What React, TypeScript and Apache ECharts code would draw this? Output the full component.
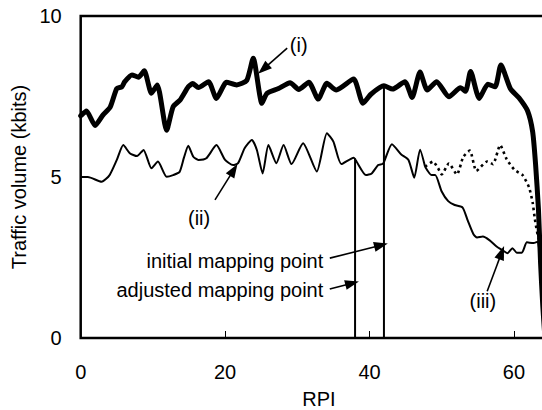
import { useEffect, useRef } from "react";
import * as echarts from "echarts";

// Axis ranges and tick labels
const xTickValues = [0, 20, 40, 60];
const yTickValues = [0, 5, 10];
const xMax = 66;

// (i) traffic volume, thick curve
const curveI: [number, number][] = [
  [0, 6.9], [0.8, 7.05], [2.0, 6.6], [3.1, 6.93], [4.1, 7.18], [5.0, 7.75], [5.7, 7.8],
  [6.1, 7.96], [7.1, 8.17], [8.0, 8.1], [8.8, 8.3], [9.8, 7.6], [10.6, 7.86], [11.9, 6.45],
  [12.8, 7.18], [13.8, 7.4], [14.9, 7.8], [15.5, 7.9], [16.3, 7.78], [17.7, 7.96], [18.8, 7.44],
  [20.2, 7.94], [21.6, 7.86], [23.0, 8.0], [23.9, 8.69], [25.1, 7.29], [25.8, 7.6], [27.4, 7.75],
  [29.0, 7.93], [30.2, 7.72], [31.6, 7.94], [32.9, 7.42], [34.1, 7.91], [35.4, 7.7], [37.8, 8.04],
  [39.1, 7.29], [40.2, 7.57], [42.0, 7.83], [43.2, 7.73], [44.9, 7.96], [45.9, 7.47], [47.0, 8.26],
  [48.0, 7.7], [49.3, 7.96], [51.0, 7.49], [52.6, 7.77], [53.3, 7.66], [54.0, 8.28], [55.2, 7.44],
  [56.4, 7.88], [57.4, 7.8], [58.2, 8.48], [59.5, 7.75], [60.7, 7.46], [61.9, 7.05], [62.6, 6.4],
  [63.0, 5.4], [63.4, 4.0], [63.7, 2.3], [64.0, 1.0], [64.3, 0]
];

// (ii) traffic volume, thin solid part
const curveII: [number, number][] = [
  [0, 5.0], [1.0, 5.0], [2.9, 4.85], [4.0, 5.06], [5.0, 5.53], [5.9, 5.99], [6.8, 5.74],
  [7.8, 5.65], [8.7, 5.84], [9.8, 5.27], [10.7, 5.48], [11.9, 5.01], [12.8, 5.06], [13.7, 5.16],
  [14.3, 5.6], [14.9, 5.97], [15.6, 5.63], [16.3, 5.53], [17.4, 5.58], [18.8, 5.99], [20.0, 5.53],
  [21.1, 5.37], [21.8, 5.43], [22.7, 5.89], [23.7, 6.15], [24.4, 5.84], [25.2, 5.11], [26.0, 5.99],
  [27.1, 5.43], [28.1, 5.99], [29.2, 5.4], [30.8, 6.05], [32.7, 5.17], [34.1, 6.36], [35.0, 6.1],
  [36.1, 5.4], [37.8, 5.6], [38.2, 5.48], [39.5, 5.06], [40.3, 5.11], [41.2, 5.37], [41.9, 5.42],
  [43.1, 6.02], [44.4, 5.7], [45.4, 5.53], [46.2, 4.98], [47.0, 5.85], [47.7, 5.32]
];

// (ii) continuation, dotted
const curveIIDotted: [number, number][] = [
  [47.7, 5.32], [48.8, 5.48], [49.5, 5.27], [50.0, 5.08], [51.0, 5.42], [52.1, 5.08], [53.0, 5.63],
  [53.9, 5.82], [54.8, 5.19], [56.3, 5.48], [57.1, 5.4], [58.1, 5.99], [59.0, 5.55], [60.1, 5.22],
  [61.2, 5.06], [62.1, 4.68], [62.6, 4.2], [62.9, 3.7], [63.3, 3.2], [63.7, 2.9]
];

// (iii) traffic volume after the split
const curveIII: [number, number][] = [
  [47.7, 5.32], [48.6, 5.06], [49.1, 5.06], [50.0, 4.55], [50.9, 4.25], [51.8, 4.13], [52.9, 4.05],
  [53.6, 3.65], [54.4, 3.22], [54.9, 3.12], [55.7, 3.15], [56.6, 3.04], [57.6, 2.84], [58.4, 2.73],
  [59.1, 2.63], [59.8, 2.79], [60.4, 2.65], [61.1, 2.65], [61.8, 2.97], [62.7, 2.95], [63.3, 2.99],
  [63.6, 2.5], [63.9, 1.6], [64.2, 0.5]
];

// Mapping points: [RPI, height the marker line reaches]
const adjustedMappingPoint: [number, number] = [38, 5.58];
const initialMappingPoint: [number, number] = [42, 7.82];

// Annotation labels and their pointer arrows, in data coordinates
type Note = { text: string; at: [number, number]; align: string; from: [number, number]; to: [number, number] };
const notes: Note[] = [
  { text: "(i)", at: [30.2, 9.1], align: "center", from: [28.6, 9.0], to: [25.3, 8.35] },
  { text: "(ii)", at: [16.4, 3.73], align: "center", from: [18.6, 4.29], to: [21.2, 5.22] },
  { text: "initial mapping point", at: [33.6, 2.39], align: "right", from: [34.5, 2.48], to: [41.6, 2.88] },
  { text: "adjusted mapping point", at: [33.6, 1.49], align: "right", from: [34.5, 1.52], to: [37.6, 1.7] },
  { text: "(iii)", at: [55.7, 1.15], align: "center", from: [56.3, 1.45], to: [58.3, 2.65] }
];

const FONT = "'Liberation Sans', Arial, Helvetica, sans-serif";

export default function App() {
  const ref = useRef<HTMLDivElement>(null);

  useEffect(() => {
    if (!ref.current) return;
    const chart = echarts.init(ref.current, undefined, { renderer: "svg" });

    const lineBase = { type: "line" as const, showSymbol: false, symbol: "none", silent: true };

    chart.setOption({
      animation: false,
      backgroundColor: "#fff",
      textStyle: { fontFamily: FONT, color: "#000" },
      grid: {
        left: 80.7,
        top: 16,
        width: 7.22 * xMax,
        height: 322,
        outerBoundsMode: "none",
        containLabel: false,
        show: true,
        borderColor: "#000",
        borderWidth: 2.5,
        backgroundColor: "transparent"
      },
      xAxis: {
        type: "value",
        min: 0,
        max: xMax,
        interval: 20,
        name: "RPI",
        nameLocation: "middle",
        nameGap: 51,
        nameTextStyle: { fontSize: 20, color: "#000", fontFamily: FONT },
        axisLine: { show: false },
        axisTick: { show: true, inside: true, length: 7, lineStyle: { color: "#000", width: 1 } },
        splitLine: { show: false },
        axisLabel: {
          fontSize: 20,
          color: "#000",
          fontFamily: FONT,
          margin: 24,
          showMaxLabel: false,
          formatter: (v: number) => (xTickValues.includes(v) ? String(v) : "")
        }
      },
      yAxis: {
        type: "value",
        min: 0,
        max: 10,
        interval: 5,
        name: "Traffic volume (kbits)",
        nameLocation: "middle",
        nameGap: 48,
        nameTextStyle: { fontSize: 20, color: "#000", fontFamily: FONT },
        axisLine: { show: false },
        axisTick: { show: false },
        splitLine: { show: false },
        axisLabel: {
          fontSize: 20,
          color: "#000",
          fontFamily: FONT,
          margin: 19,
          formatter: (v: number) => (yTickValues.includes(v) ? String(v) : "")
        }
      },
      series: [
        {
          ...lineBase,
          name: "(iii)",
          data: curveIII,
          smooth: 0.2,
          lineStyle: { color: "#000", width: 2 }
        },
        {
          ...lineBase,
          name: "(ii) continued",
          data: curveIIDotted,
          smooth: 0.2,
          lineStyle: { color: "#000", width: 2.6, type: [2.6, 3.4] }
        },
        {
          ...lineBase,
          name: "(ii)",
          data: curveII,
          smooth: 0.2,
          lineStyle: { color: "#000", width: 2 }
        },
        {
          ...lineBase,
          name: "adjusted mapping point",
          data: [[adjustedMappingPoint[0], 0], adjustedMappingPoint],
          lineStyle: { color: "#000", width: 2 }
        },
        {
          ...lineBase,
          name: "initial mapping point",
          data: [[initialMappingPoint[0], 0], initialMappingPoint],
          lineStyle: { color: "#000", width: 2 }
        },
        {
          ...lineBase,
          name: "(i)",
          data: curveI,
          smooth: 0.2,
          lineStyle: { color: "#000", width: 5, join: "round", cap: "round" }
        },
        {
          type: "line",
          name: "pointers",
          data: [],
          silent: true,
          markLine: {
            silent: true,
            animation: false,
            symbol: ["none", "triangle"],
            symbolSize: [10, 14],
            label: { show: false },
            lineStyle: { color: "#000", width: 1.6, type: "solid" },
            emphasis: { disabled: true },
            data: notes.map((n) => [{ coord: n.from }, { coord: n.to }])
          }
        }
      ]
    });

    // Place the annotation texts at their data positions
    const graphics = notes.map((n) => {
      const p = chart.convertToPixel({ gridIndex: 0 }, n.at) as number[];
      return {
        type: "text",
        x: p[0],
        y: p[1],
        silent: true,
        style: {
          text: n.text,
          fontSize: 20,
          fontFamily: FONT,
          fill: "#000",
          align: n.align,
          verticalAlign: "middle"
        }
      };
    });
    chart.setOption({ graphic: graphics });

    return () => chart.dispose();
  }, []);

  return (
    <div
      style={{
        position: "fixed",
        left: 0,
        top: 0,
        width: 542,
        height: 410,
        overflow: "hidden",
        background: "#fff"
      }}
    >
      <div ref={ref} style={{ width: 570, height: 410 }} />
    </div>
  );
}
